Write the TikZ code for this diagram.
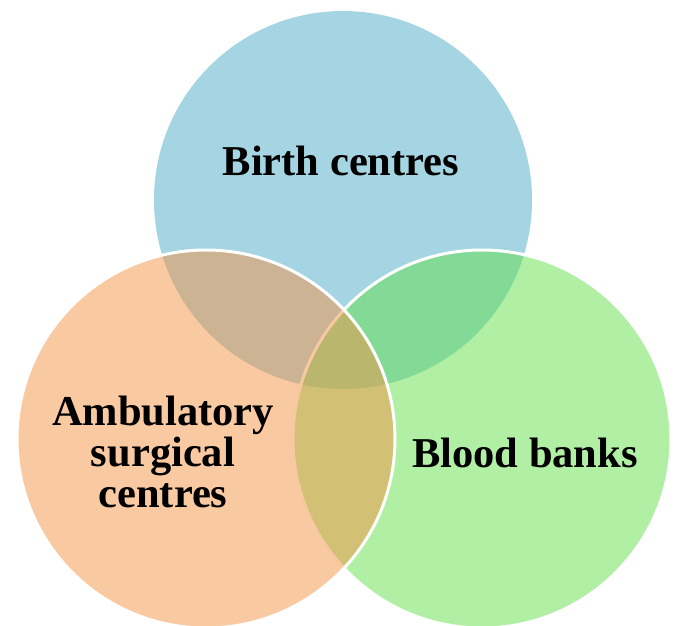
\documentclass[tikz,border=0pt]{standalone}
\usepackage{fontspec}
\setmainfont{Liberation Serif}

\definecolor{birthblue}{RGB}{165,213,226}
\definecolor{bankgreen}{RGB}{99,223,75}
\definecolor{surgorange}{RGB}{243,147,69}

\begin{document}
\begin{tikzpicture}[x=1pt, y=-1pt,
		venntext/.style={font=\bfseries\fontsize{42.5}{41}\selectfont, align=center, text=black, inner sep=0pt},
		venncircle/.style={draw=white, line width=3pt, fill opacity=0.5}]
	\useasboundingbox (0,0) rectangle (677,625);
	%	\draw[lightgray] (0,0) grid[step=50] (677,625);
	\fill[birthblue] (343,200) circle (189); % birth
	\draw[venncircle, fill=bankgreen] (482,439) circle (189); % blood
	\draw[venncircle, fill=surgorange] (206,439) circle (189); % ambulatory
	
	\node[venntext] (birth) at (341,161) {Birth centres};
	\node[venntext] (blood) at (525,453) {Blood banks};
	\node[venntext] (ambul) at (163,452) {Ambulatory\\surgical\\centres};
\end{tikzpicture}
\end{document}
